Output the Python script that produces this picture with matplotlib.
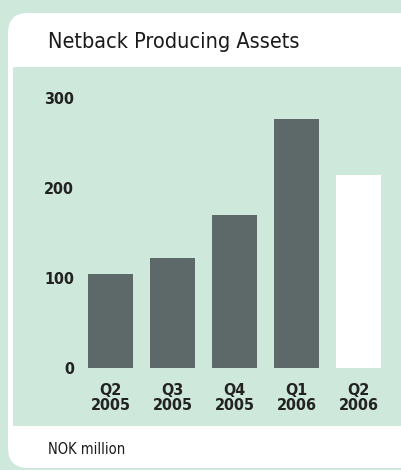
import matplotlib
matplotlib.use("Agg")
import matplotlib.pyplot as plt
from matplotlib.patches import FancyBboxPatch

# data
quarters = ["Q2\n2005", "Q3\n2005", "Q4\n2005", "Q1\n2006", "Q2\n2006"]
netback = [104, 122, 170, 277, 214]
bar_colors = ["#5d6869", "#5d6869", "#5d6869", "#5d6869", "#ffffff"]
yticks = [0, 100, 200, 300]

green = "#cfe8dc"
fam = ["DejaVu Sans"]
W, H = 402, 470

fig = plt.figure(figsize=(W / 100, H / 100), dpi=100, facecolor=green)

# white rounded card
card = FancyBboxPatch((8 / W, 2 / H), 430 / W, 455 / H,
                      boxstyle="round,pad=0,rounding_size=0.05",
                      transform=fig.transFigure, facecolor="white",
                      edgecolor="none", mutation_aspect=W / H, zorder=-5)
fig.patches.append(card)

fig.text(48 / W, 1 - 42 / H, "Netback Producing Assets", family=fam,
         stretch="condensed", fontsize=15.5, va="center", ha="left",
         color="#1a1a1a")
fig.text(48 / W, 1 - 450 / H, "NOK million", family=fam, stretch="condensed",
         fontsize=10.5, va="center", ha="left", color="#1a1a1a")

# chart area
ax = fig.add_axes([13 / W, 1 - 426 / H, 389 / W, 359 / H], facecolor=green)
x = range(len(quarters))
ax.bar(x, netback, width=0.726, color=bar_colors)
ax.set_xlim(-1.573, 4.702)
ax.set_ylim(-64.4, 334.4)
for s in ax.spines.values():
    s.set_visible(False)

ax.set_yticks(yticks)
ax.set_yticklabels([str(t) for t in yticks], family=fam, stretch="condensed",
                   fontsize=11.5, fontweight="bold", color="#222222")
ax.tick_params(axis="y", length=0, pad=-44)

ax.set_xticks(list(x))
ax.set_xticklabels(quarters, family=fam, stretch="condensed", fontsize=11.5,
                   fontweight="bold", color="#222222", linespacing=1.0)
ax.tick_params(axis="x", length=0, pad=-31)

fig.savefig("out.png", dpi=100, facecolor=green)
